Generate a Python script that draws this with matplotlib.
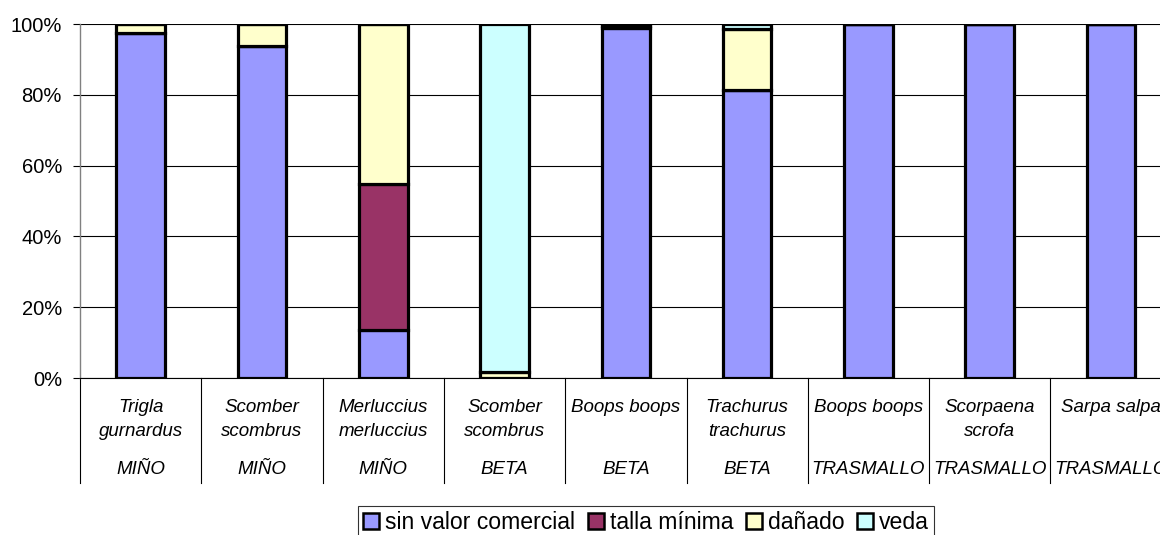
import matplotlib
matplotlib.use("Agg")
import matplotlib.pyplot as plt
from matplotlib.ticker import FuncFormatter

species = ["Trigla\ngurnardus", "Scomber\nscombrus", "Merluccius\nmerluccius",
           "Scomber\nscombrus", "Boops boops", "Trachurus\ntrachurus",
           "Boops boops", "Scorpaena\nscrofa", "Sarpa salpa"]
gear = ["MIÑO", "MIÑO", "MIÑO", "BETA", "BETA", "BETA",
        "TRASMALLO", "TRASMALLO", "TRASMALLO"]

series_names = ["sin valor comercial", "talla mínima", "dañado", "veda"]
sin_valor = [97.4, 93.8, 13.6, 0.0, 98.8, 81.4, 100.0, 100.0, 100.0]
talla_minima = [0.0, 0.0, 41.2, 0.0, 0.5, 0.0, 0.0, 0.0, 0.0]
danado = [2.6, 6.2, 45.2, 1.8, 0.7, 17.1, 0.0, 0.0, 0.0]
veda = [0.0, 0.0, 0.0, 98.2, 0.0, 1.5, 0.0, 0.0, 0.0]
colors = ["#9999FF", "#993366", "#FFFFCC", "#CCFFFF"]

plt.rcParams["font.family"] = ["Liberation Sans", "DejaVu Sans"]

W, H = 1160, 535
fig = plt.figure(figsize=(W / 100, H / 100), dpi=100)
left_px, right_px, top_px, bot_px = 80, 80 + 9 * 121.3, 24, 378
ax = fig.add_axes([left_px / W, 1 - bot_px / H,
                   (right_px - left_px) / W, (bot_px - top_px) / H])

x = list(range(len(species)))
bottom = [0.0] * len(species)
for name, vals, col in zip(series_names, [sin_valor, talla_minima, danado, veda], colors):
    fr = [v / 100 for v in vals]
    ax.bar(x, fr, 0.4, bottom=bottom, color=col, edgecolor="black",
           linewidth=2.3, label=name, zorder=3)
    bottom = [b + f for b, f in zip(bottom, fr)]

ax.set_xlim(-0.5, len(species) - 0.5)
ax.set_ylim(0, 1)
ax.set_yticks([0, 0.2, 0.4, 0.6, 0.8, 1.0])
ax.yaxis.set_major_formatter(FuncFormatter(lambda v, p: f"{v * 100:.0f}%"))
ax.tick_params(axis="y", labelsize=14.5, length=5, width=0.8, pad=8, colors="black")
ax.set_xticks([])
ax.grid(axis="y", color="black", linewidth=0.8, zorder=0)
for s in ["top", "right"]:
    ax.spines[s].set_visible(False)
ax.spines["left"].set_color("#808080")
ax.spines["left"].set_linewidth(1.0)
ax.spines["bottom"].set_color("black")
ax.spines["bottom"].set_linewidth(0.8)

# two-level category axis: species names above, fishing gear below
trans = ax.get_xaxis_transform()
px = 1.0 / (bot_px - top_px)
for i, (sp, g) in enumerate(zip(species, gear)):
    ax.text(i, -21 * px, sp, transform=trans, ha="center", va="top",
            fontsize=13.5, style="italic", linespacing=1.55)
    ax.text(i, -91 * px, g, transform=trans, ha="center", va="center",
            fontsize=13.5, style="italic")
for k in range(len(species) + 1):
    ax.plot([k - 0.5, k - 0.5], [0, -105 * px], transform=trans,
            color="black", linewidth=0.8, clip_on=False)

leg = fig.legend(loc="upper center", bbox_to_anchor=(646 / W, 1 - 506 / H),
                 ncol=4, fontsize=16.6, frameon=True, fancybox=False,
                 handlelength=0.7, handleheight=0.7, handletextpad=0.25,
                 columnspacing=0.55, borderpad=0.22, borderaxespad=0)
leg.get_frame().set_edgecolor("black")
leg.get_frame().set_linewidth(0.8)
for h in leg.legend_handles:
    h.set_linewidth(1.8)

fig.savefig("out.png", dpi=100)
